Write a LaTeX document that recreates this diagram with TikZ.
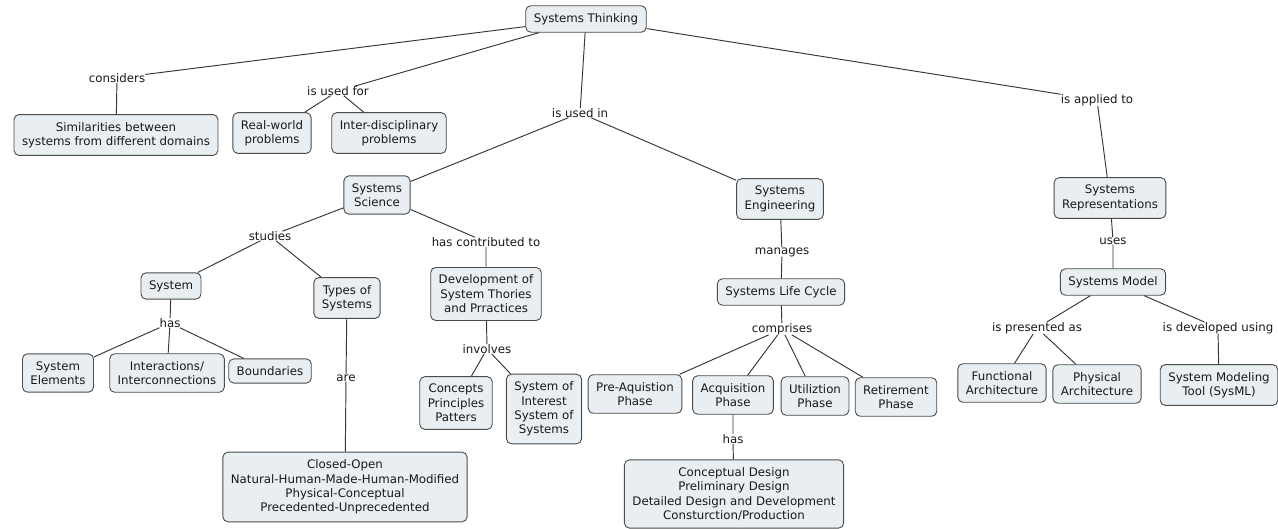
\documentclass[tikz,border=0pt]{standalone}
\usepackage{fontspec}
\setmainfont{DejaVu Sans}
\definecolor{boxfill}{RGB}{232,238,241}
\definecolor{boxline}{RGB}{75,75,75}
\definecolor{linkline}{RGB}{55,55,55}
\begin{document}
\begin{tikzpicture}[x=1pt, y=-1pt,
    concept/.style={draw=boxline, fill=boxfill, line width=0.9pt, rounded corners=5pt,
        align=center, inner xsep=8pt, inner ysep=7.5pt, text=black!90},
    linkword/.style={inner sep=0pt, text=black!90},
    link/.style={draw=linkline, line width=0.95pt}]
    \fontsize{11.8}{14.4}\selectfont
    \useasboundingbox (0,0) rectangle (1278,529);

    \node[concept] (think) at (586,19) {Systems Thinking};

    \node[linkword] (lconsiders) at (117,78) {considers};
    \node[linkword] (lusedfor) at (338,91) {is used for};
    \node[linkword] (lusedin) at (580,113) {is used in};
    \node[linkword] (lapplied) at (1097,100) {is applied to};

    \node[concept] (simil) at (116,135) {Similarities between\\systems from different domains};
    \node[concept] (realw) at (272,133) {Real-world\\problems};
    \node[concept] (interdis) at (389,133) {Inter-disciplinary\\problems};
    \node[concept] (science) at (377,195) {Systems\\Science};
    \node[concept] (engin) at (780,199) {Systems\\Engineering};
    \node[concept] (repres) at (1110,198) {Systems\\Representations};

    \node[linkword] (lstudies) at (270,236) {studies};
    \node[linkword] (lcontrib) at (486,242) {has contributed to};
    \node[linkword] (lmanages) at (782,252) {manages};
    \node[linkword] (luses) at (1113,241) {uses};

    \node[concept] (system) at (171,286) {System};
    \node[concept] (types) at (347,298) {Types of\\Systems};
    \node[concept] (devel) at (486,294) {Development of\\System Thories\\and Prractices};
    \node[concept] (lifecycle) at (781,292) {Systems Life Cycle};
    \node[concept] (model) at (1113,282) {Systems Model};

    \node[linkword] (lhas) at (170,323) {has};
    \node[linkword] (lare) at (346,378) {are};
    \node[linkword] (linvolves) at (487,349) {involves};
    \node[linkword] (lcomprises) at (782,329) {comprises};
    \node[linkword] (lpresented) at (1037,328) {is presented as};
    \node[linkword] (ldeveloped) at (1218,328) {is developed using};

    \node[concept] (elements) at (58,373) {System\\Elements};
    \node[concept] (interact) at (167,373) {Interactions/\\Interconnections};
    \node[concept] (bound) at (270,371) {Boundaries};
    \node[concept] (concepts) at (456,403) {Concepts\\Principles\\Patters};
    \node[concept] (soi) at (544,409) {System of\\Interest\\System of\\Systems};
    \node[concept] (preacq) at (635,394) {Pre-Aquistion\\Phase};
    \node[concept] (acq) at (733,395) {Acquisition\\Phase};
    \node[concept] (util) at (815,396) {Utiliztion\\Phase};
    \node[concept] (retire) at (896,397) {Retirement\\Phase};
    \node[concept] (funct) at (1002,383) {Functional\\Architecture};
    \node[concept] (phys) at (1097,384) {Physical\\Architecture};
    \node[concept] (sysml) at (1219,385) {System Modeling\\Tool (SysML)};

    \node[linkword] (lhasacq) at (733,439) {has};

    \node[concept] (classes) at (345,487) {Closed-Open\\Natural-Human-Made-Human-Modified\\Physical-Conceptual\\Precedented-Unprecedented};
    \node[concept] (design) at (734,494) {Conceptual Design\\Preliminary Design\\Detailed Design and Development\\Consturction/Production};

    \draw[link] (think) -- (lconsiders) -- (simil);
    \draw[link] (think) -- (lusedfor);
    \draw[link] (lusedfor) -- (realw);
    \draw[link] (lusedfor) -- (interdis);
    \draw[link] (think) -- (lusedin);
    \draw[link] (lusedin) -- (science);
    \draw[link] (lusedin) -- (engin);
    \draw[link] (think) -- (lapplied) -- (repres);

    \draw[link] (science) -- (lstudies);
    \draw[link] (lstudies) -- (system);
    \draw[link] (lstudies) -- (types);
    \draw[link] (science) -- (lcontrib) -- (devel);
    \draw[link] (system) -- (lhas);
    \draw[link] (lhas) -- (elements);
    \draw[link] (lhas) -- (interact);
    \draw[link] (lhas) -- (bound);
    \draw[link] (types) -- (lare) -- (classes);
    \draw[link] (devel) -- (linvolves);
    \draw[link] (linvolves) -- (concepts);
    \draw[link] (linvolves) -- (soi);

    \draw[link] (engin) -- (lmanages) -- (lifecycle);
    \draw[link] (lifecycle) -- (lcomprises);
    \draw[link] (lcomprises) -- (preacq);
    \draw[link] (lcomprises) -- (acq);
    \draw[link] (lcomprises) -- (util);
    \draw[link] (lcomprises) -- (retire);
    \draw[link] (acq) -- (lhasacq) -- (design);

    \draw[link] (repres) -- (luses) -- (model);
    \draw[link] (model) -- (lpresented);
    \draw[link] (lpresented) -- (funct);
    \draw[link] (lpresented) -- (phys);
    \draw[link] (model) -- (ldeveloped) -- (sysml);
\end{tikzpicture}
\end{document}
